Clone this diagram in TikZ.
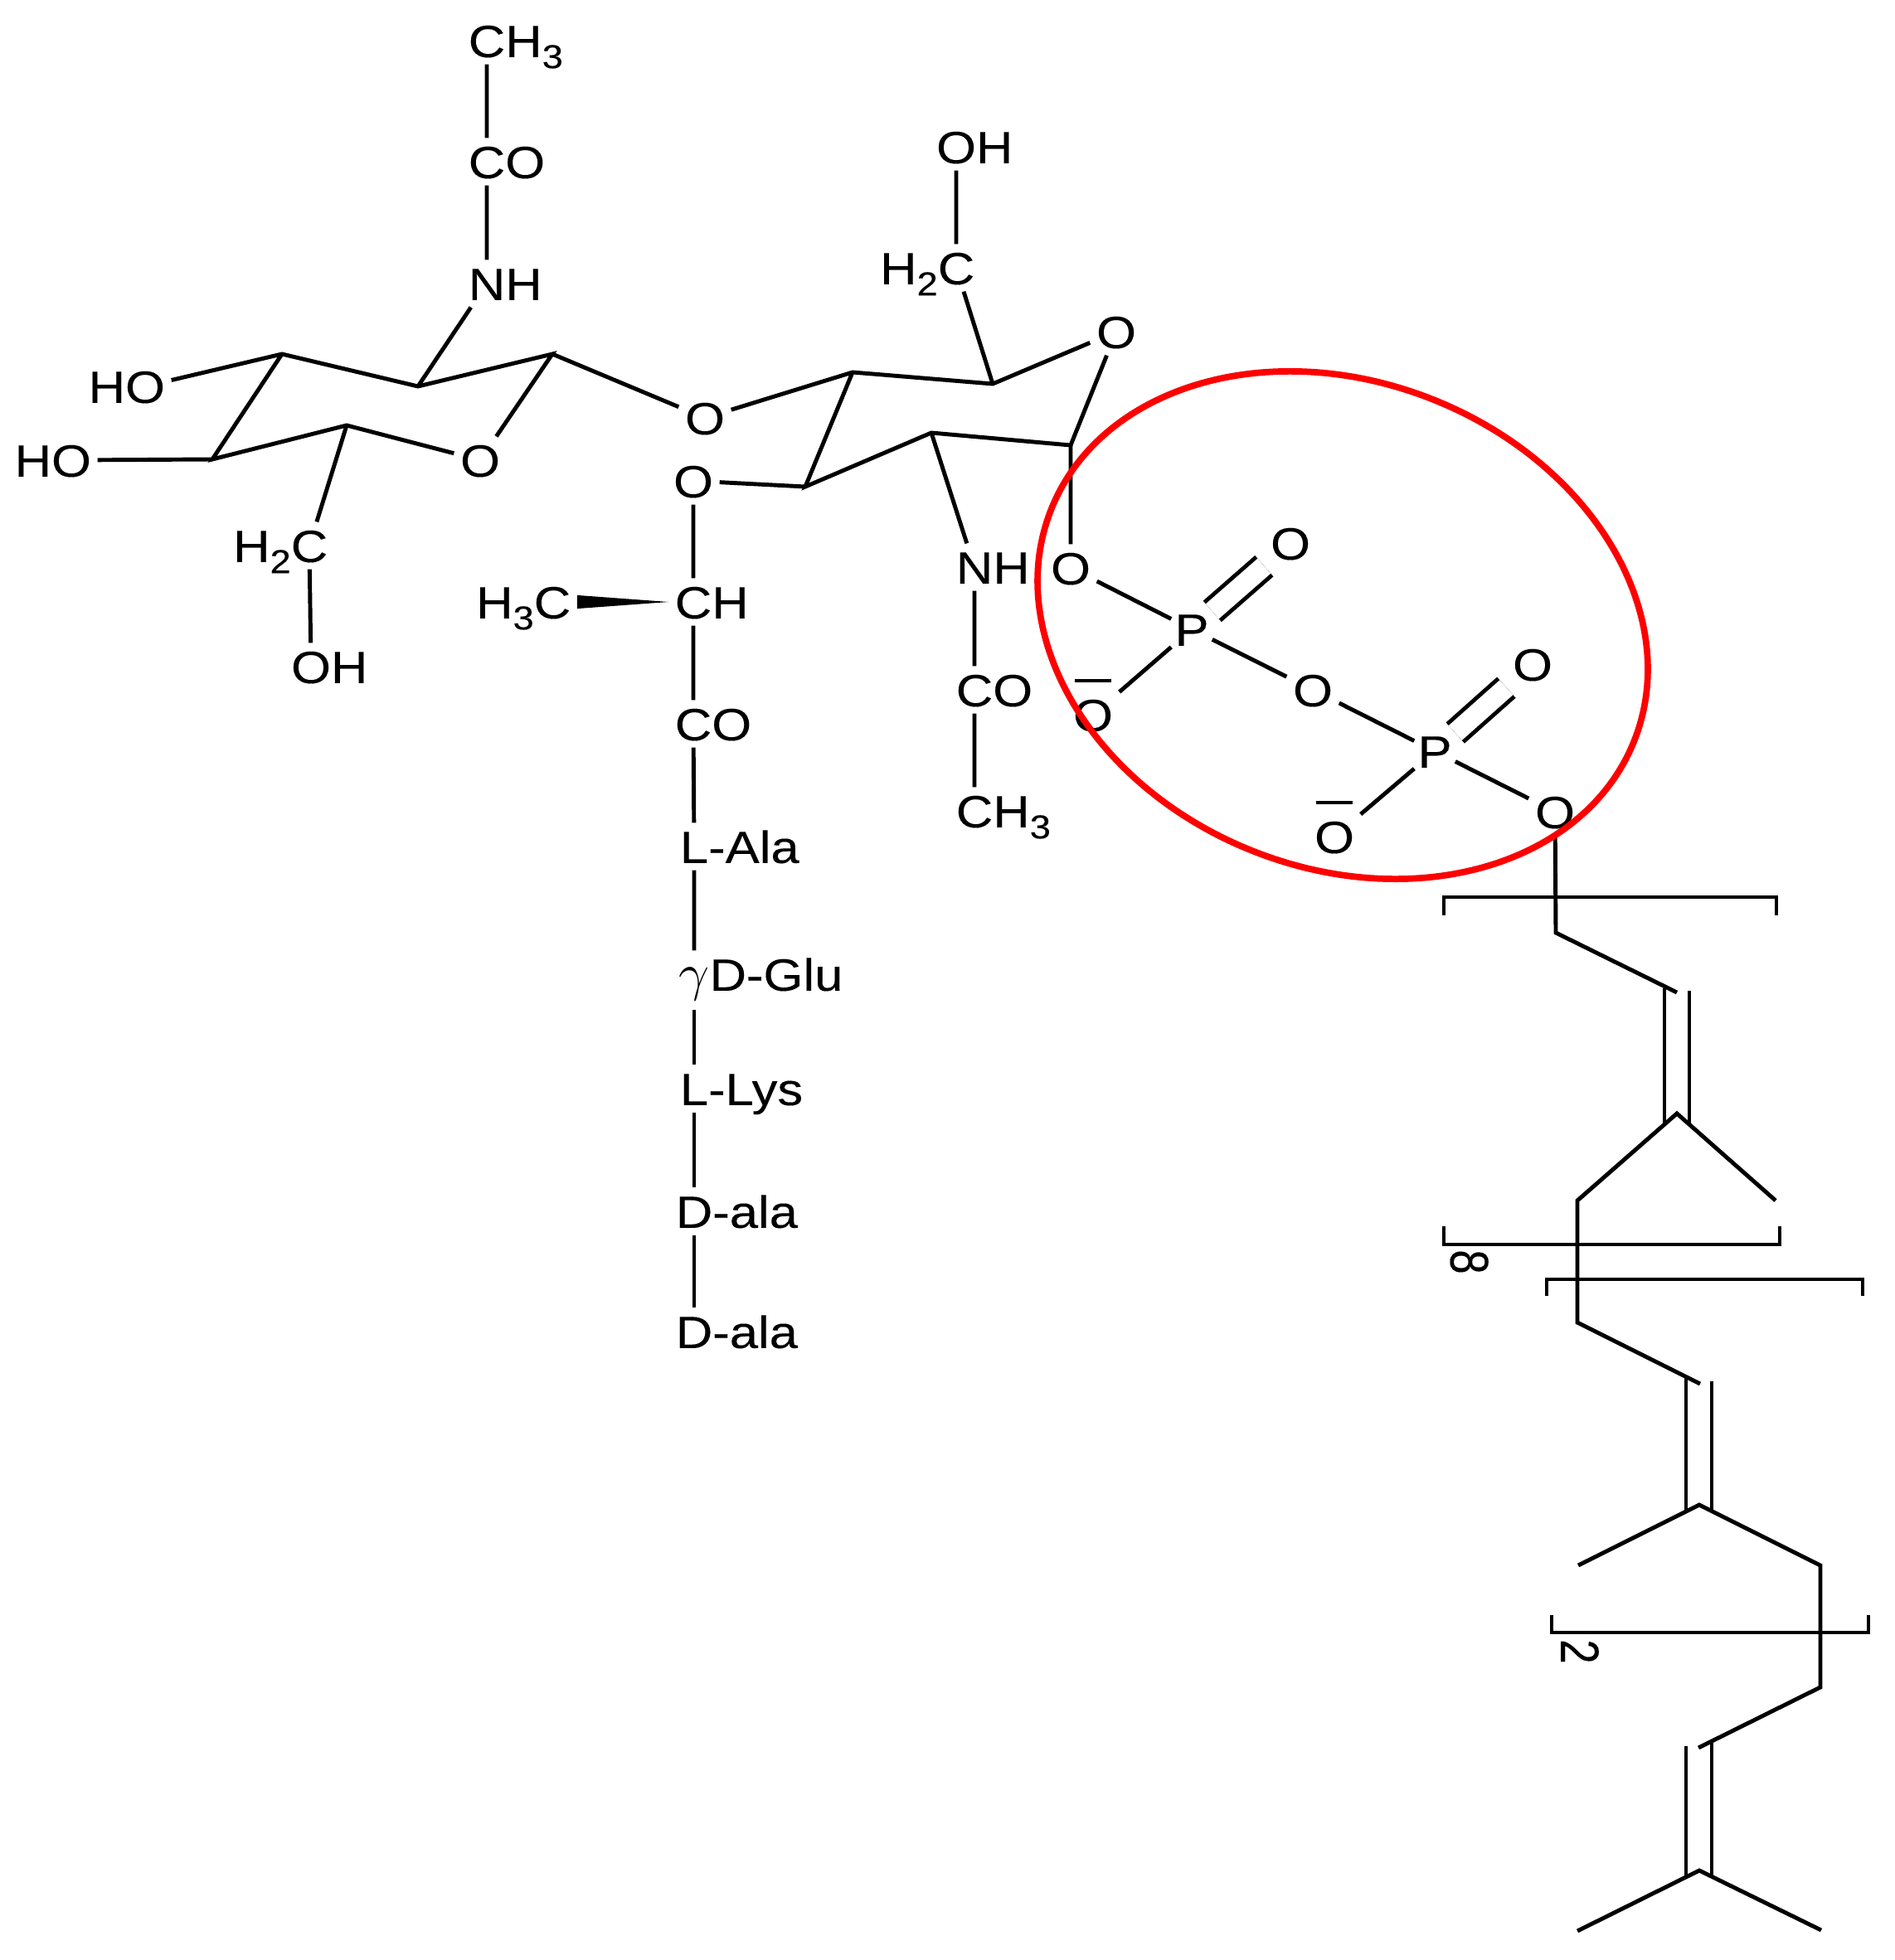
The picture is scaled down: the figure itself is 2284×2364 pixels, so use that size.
\documentclass[tikz,border=0pt]{standalone}
\usepackage{fontspec}
\setmainfont[FakeStretch=1.13, FakeBold=0.2]{Liberation Sans}
\newcommand{\subnum}[1]{\raisebox{-3.8pt}{\fontsize{11.4pt}{12pt}\selectfont #1}}
\newcommand{\repnum}[1]{\scalebox{.86}[1.2]{#1}}

\begin{document}
\begin{tikzpicture}[x = 0.01cm, y = -0.01cm, line width = 1.4pt,
    every node/.style = {inner xsep = 1.5pt, inner ysep = 1.8pt, text height = 11.3pt, text depth = 0pt,
        font = \fontsize{15.5pt}{17pt}\selectfont},
    marker/.style = {red, line width = 2.2pt}]
        \useasboundingbox (0,0) rectangle (2284,2364);

        \node (methyla) at (587,49) {C\rlap{H\subnum{3}}};
        \node (acetyla) at (587,195) {C\rlap{O}};
        \node (amidea) at (587,342) {N\rlap{H}};
        \node (hydroa) at (175,466) {\llap{H}O};
        \node (hydrob) at (86,555) {\llap{H}O};
        \node (ringa) at (579,555) {O};
        \node (carbona) at (373,658) {\llap{H\subnum{2}}C};
        \node (hydroc) at (375,804) {O\rlap{H}};
        \node (bridge) at (850,504) {O};
        \node (ringb) at (1346,400) {O};
        \node (carbonb) at (1153,323) {\llap{H\subnum{2}}C};
        \node (hydrod) at (1153,177) {O\rlap{H}};
        \node (lactyl) at (836,580) {O};
        \node (chiral) at (836,726) {C\rlap{H}};
        \node (methylb) at (666,726) {\llap{H\subnum{3}}C};
        \node (carbonyl) at (836,873) {C\rlap{O}};
        \node (alaa) at (837,1021) {L\rlap{-Ala}};
        \node (glu) at (837,1175) {\scalebox{1.3}[1.25]{$\gamma$}\rlap{D-Glu}};
        \node (lys) at (837,1313) {L\rlap{-Lys}};
        \node (alab) at (837,1461) {D\rlap{-ala}};
        \node (alac) at (837,1606) {D\rlap{-ala}};
        \node (amideb) at (1175,684) {N\rlap{H}};
        \node (acetylb) at (1175,832) {C\rlap{O}};
        \node (methylc) at (1175,978) {C\rlap{H\subnum{3}}};
        \node (oxa) at (1291,685) {O};
        \node[inner xsep = 0.5pt] (phosa) at (1437,759) {P};
        \node (oxb) at (1556,655) {O};
        \node (anion) at (1318,862) {O};
        \node (oxc) at (1583,832) {O};
        \node[inner xsep = 0.5pt] (phosb) at (1730,906) {P};
        \node (oxd) at (1848,801) {O};
        \node (anionb) at (1609,1009) {O};
        \node (oxe) at (1875,979) {O};
        \node[rotate = -90] (repa) at (1769,1522) {\repnum{8}};
        \node[rotate = -90] (repb) at (1902,1992) {\repnum{2}};

        \coordinate (a1) at (340,427);
        \coordinate (a2) at (504,466);
        \coordinate (a3) at (666,427);
        \coordinate (a4) at (418,513);
        \coordinate (a5) at (256,554);
        \coordinate (b1) at (1028,449);
        \coordinate (b2) at (1197,463);
        \coordinate (b3) at (1291,537);
        \coordinate (b4) at (1123,522);
        \coordinate (b5) at (971,587);
        \coordinate (c1) at (1876,1125);
        \coordinate (c2) at (2022,1197);
        \coordinate (c3) at (2022,1343);
        \coordinate (c4) at (1902,1448);
        \coordinate (c5) at (2141,1448);
        \coordinate (c6) at (1902,1595);
        \coordinate (c7) at (2050,1669);
        \coordinate (c8) at (2049,1815);
        \coordinate (c9) at (1903,1888);
        \coordinate (c10) at (2195,1888);
        \coordinate (c11) at (2195,2035);
        \coordinate (c12) at (2048,2108);
        \coordinate (c13) at (2049,2256);
        \coordinate (c14) at (1902,2329);
        \coordinate (c15) at (2196,2328);

        \draw (methyla) -- (acetyla) -- (amidea) -- (a2);
        \draw (hydroa) -- (a1) -- (a2) -- (a3) -- (ringa) -- (a4) -- (a5) -- (a1);
        \draw (hydrob) -- (a5);
        \draw (a4) -- (carbona) -- (hydroc);
        \draw (a3) -- (bridge) -- (b1) -- (b2) -- (ringb) -- (b3) -- (b4) -- (b5) -- (b1);
        \draw (b2) -- (carbonb) -- (hydrod);
        \draw (b5) -- (lactyl) -- (chiral) -- (carbonyl) -- (alaa) -- (glu);
        \draw[shorten <= 4pt] (glu) -- (lys);
        \draw (lys) -- (alab) -- (alac);
        \fill ([yshift = 2.3pt]methylb.east) -- ([yshift = -2.3pt]methylb.east) -- (chiral.west) -- cycle;
        \draw (b4) -- (amideb) -- (acetylb) -- (methylc);
        \draw (b3) -- (oxa) -- (phosa) -- (oxc) -- (phosb) -- (oxe);
        \draw (phosa) -- (anion);
        \draw (phosb) -- (anionb);
        \draw[double, double distance = 6.8pt] (phosa) -- (oxb);
        \draw[double, double distance = 6.8pt] (phosb) -- (oxd);
        \draw ([shift = {(-22,-41)}]anion.center) -- ([shift = {(22,-41)}]anion.center);
        \draw ([shift = {(-22,-41)}]anionb.center) -- ([shift = {(22,-41)}]anionb.center);

        \draw (oxe) -- (c1) -- (c2);
        \draw (2007,1192) -- (2007,1356);
        \draw (2037,1195) -- (2037,1356);
        \draw (c5) -- (c3) -- (c4) -- (c6) -- (c7);
        \draw (2033,1662) -- (2033,1822);
        \draw (2064,1666) -- (2064,1822);
        \draw (c9) -- (c8) -- (c10) -- (c11) -- (c12);
        \draw (2033,2106) -- (2033,2262);
        \draw (2064,2102) -- (2064,2262);
        \draw (c14) -- (c13) -- (c15);

        \draw (1741,1104) -- (1741,1082) -- (2142,1082) -- (2142,1104);
        \draw (1741,1479) -- (1741,1501) -- (2146,1501) -- (2146,1479);
        \draw (1865,1563) -- (1865,1543) -- (2246,1543) -- (2246,1563);
        \draw (1871,1948) -- (1871,1969) -- (2253,1969) -- (2253,1948);

        \draw[marker] (1619,754) ellipse [x radius = 3.78cm, y radius = 2.93cm, rotate = -21.6];
\end{tikzpicture}
\end{document}
